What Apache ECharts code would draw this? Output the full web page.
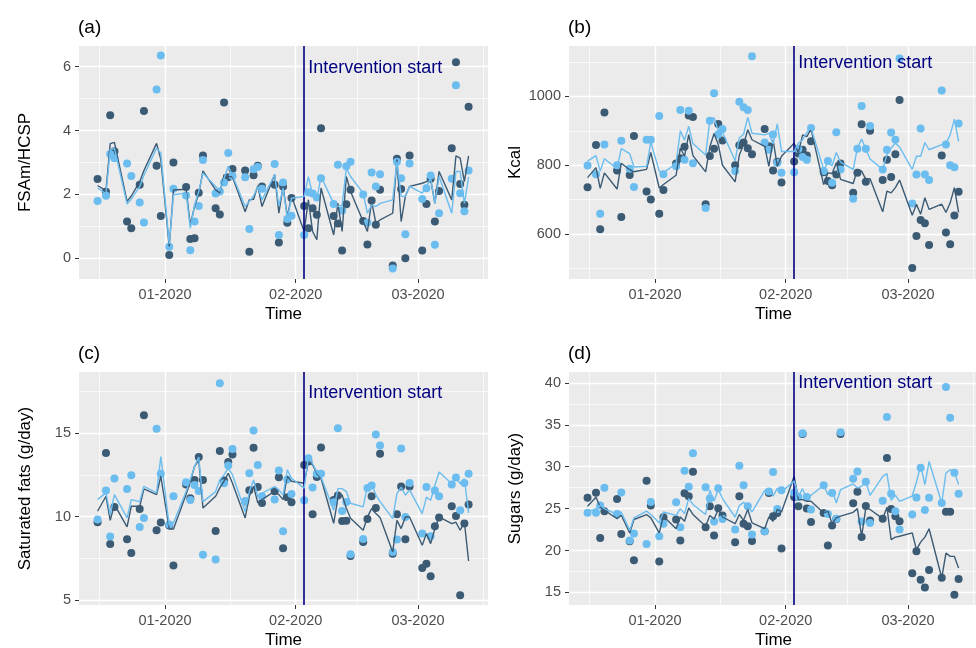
<!DOCTYPE html>
<html>
<head>
<meta charset="utf-8">
<script src="https://cdn.jsdelivr.net/npm/echarts@6/dist/echarts.min.js"></script>
<style>
  html, body { margin: 0; padding: 0; background: #fff; }
  #chart { width: 976px; height: 648px; }
</style>
</head>
<body>
<div id="chart"></div>
<script>
// weekdays with data
var dates = [
  '2019-12-16','2019-12-18','2019-12-19','2019-12-20','2019-12-23','2019-12-24','2019-12-26','2019-12-27','2019-12-30','2019-12-31',
  '2020-01-02','2020-01-03','2020-01-06','2020-01-07','2020-01-08','2020-01-09','2020-01-10',
  '2020-01-13','2020-01-14','2020-01-15','2020-01-16','2020-01-17','2020-01-20','2020-01-21','2020-01-22','2020-01-23','2020-01-24',
  '2020-01-27','2020-01-28','2020-01-29','2020-01-30','2020-01-31',
  '2020-02-03','2020-02-04','2020-02-05','2020-02-06','2020-02-07','2020-02-10','2020-02-11','2020-02-12','2020-02-13','2020-02-14',
  '2020-02-17','2020-02-18','2020-02-19','2020-02-20','2020-02-21','2020-02-24','2020-02-25','2020-02-26','2020-02-27','2020-02-28',
  '2020-03-02','2020-03-03','2020-03-04','2020-03-05','2020-03-06','2020-03-09','2020-03-10','2020-03-11','2020-03-12','2020-03-13'
];
var monthTicks = ['2020-01-01', '2020-02-01', '2020-03-01'];
var midMonthTicks = ['2019-12-16 12:00', '2020-01-16 12:00', '2020-02-15 12:00', '2020-03-16 12:00'];
var xStart = '2019-12-11 14:24';
var xEnd = '2020-03-17 14:24';
var interventionDate = '2020-02-03';

// (a) FSAm/HCSP
var aDark = [2.48, 2.08, 4.48, 3.35, 1.15, 0.94, 2.30, 4.61, 2.90, 1.32,
  0.10, 3.00, 2.23, 0.60, 0.63, 2.05, 3.22,
  1.57, 1.37, 4.88, 2.54, 2.80, 2.75, 0.20, 2.60, 2.90, 2.25,
  2.30, 0.49, 2.25, 1.11, 1.89,
  1.64, 0.94, 1.57, 1.36, 4.07, 1.32, 1.09, 0.24, 1.69, 2.15,
  1.17, 0.43, 1.81, 1.05, 2.15, -0.23, 3.12, 2.17, 0.00, 3.22,
  0.24, 1.70, 2.49, 1.15, 2.11, 3.45, 6.14, 2.33, 1.68, 4.75];
var aLight = [1.79, 1.96, 3.27, 3.13, 2.97, 2.58, 1.75, 1.12, 5.29, 6.35,
  0.36, 2.18, 1.97, 0.25, 1.15, 1.64, 3.08,
  2.03, 2.09, 2.37, 3.30, 2.58, 2.54, 0.92, 2.79, 2.86, 2.18,
  2.95, 0.73, 2.37, 1.23, 1.33,
  0.73, 2.07, 2.03, 1.90, 2.51, 1.70, 2.93, 1.50, 2.88, 3.02,
  2.00, 1.11, 2.69, 2.25, 2.63, -0.32, 3.02, 2.51, 0.75, 2.97,
  1.86, 2.19, 2.59, 0.42, 1.41, 2.49, 5.42, 2.04, 1.47, 2.75];
var aDarkLine = [2.28, 2.12, 3.59, 3.63, 1.78, 1.95, 2.40, 2.75, 3.60, 3.10,
  0.37, 2.14, 2.16, 1.05, 1.62, 2.02, 2.74,
  2.14, 2.05, 2.62, 2.56, 2.55, 1.46, 1.83, 1.85, 2.27, 1.62,
  2.62, 1.41, 2.25, 1.31, 1.94,
  0.84, 1.83, 0.84, 0.58, 2.20, 0.73, 1.72, 0.84, 2.56, 2.09,
  1.15, 0.84, 1.78, 1.10, 1.20, 1.41, 3.09, 1.15, 1.94, 2.25,
  2.35, 2.40, 2.46, 1.72, 2.72, 1.83, 3.21, 3.14, 2.40, 3.21];
var aLightLine = [2.20, 2.02, 3.40, 3.45, 1.70, 1.85, 2.25, 2.60, 3.45, 3.30,
  0.45, 1.99, 2.04, 0.94, 1.67, 2.09, 2.67,
  2.25, 2.10, 2.51, 2.88, 2.60, 1.62, 1.78, 1.95, 2.25, 1.83,
  2.62, 1.64, 2.20, 1.26, 1.88,
  1.94, 2.56, 1.99, 1.85, 2.56, 1.72, 1.62, 1.67, 2.82, 2.56,
  2.04, 1.41, 1.67, 1.62, 1.72, 1.83, 3.03, 1.94, 1.94, 2.25,
  2.04, 2.25, 2.51, 1.72, 2.56, 1.41, 2.72, 2.72, 1.72, 2.54];

// (b) Kcal
var bDark = [736, 859, 614, 953, 785, 650, 772, 885, 724, 701,
  659, 728, 805, 820, 854, 944, 940,
  687, 827, 848, 920, 872, 800, 858, 866, 849, 832,
  905, 855, 785, 810, 750,
  811, 834, 845, 828, 870, 780, 754, 742, 773, 805,
  720, 778, 919, 752, 900, 757, 816, 766, 832, 989,
  502, 595, 641, 632, 569, 828, 605, 571, 654, 723];
var bLight = [799, 774, 659, 860, 800, 871, 790, 737, 874, 874,
  943, 774, 797, 960, 816, 958, 806,
  676, 929, 1009, 889, 905, 783, 984, 968, 960, 1116,
  866, 845, 889, 807, 778,
  780, 847, 824, 816, 908, 783, 812, 749, 896, 788,
  703, 848, 972, 848, 914, 788, 845, 895, 874, 1110,
  689, 773, 907, 773, 757, 1017, 860, 800, 794, 921];
var bDarkLine = [764, 793, 733, 778, 731, 806, 787, 781, 788, 837,
  734, 744, 771, 850, 826, 889, 828,
  781, 853, 892, 860, 800, 752, 830, 860, 903, 874,
  855, 797, 874, 797, 826,
  864, 836, 888, 883, 905, 744, 778, 776, 807, 759,
  747, 788, 783, 759, 761, 665, 725, 720, 735, 757,
  655, 687, 658, 706, 672, 687, 663, 691, 735, 663];
var bLightLine = [812, 828, 783, 819, 790, 848, 834, 795, 797, 867,
  783, 778, 806, 900, 873, 913, 863,
  830, 931, 938, 900, 895, 813, 880, 890, 939, 893,
  888, 893, 862, 920, 840,
  840, 864, 874, 895, 908, 788, 807, 799, 837, 809,
  788, 850, 876, 847, 818, 788, 831, 850, 864, 853,
  788, 826, 826, 866, 845, 860, 864, 888, 934, 869];

// (c) Saturated fats
var cDark = [9.66, 13.81, 8.36, 10.58, 8.64, 7.82, 10.46, 16.07, 9.18, 9.64,
  9.46, 7.07, 11.92, 11.10, 12.20, 13.57, 12.20,
  9.14, 13.93, 12.17, 13.27, 13.73, 10.90, 11.58, 14.13, 11.78, 10.82,
  11.52, 12.36, 8.10, 11.16, 10.86,
  13.09, 13.30, 10.14, 12.37, 14.15, 11.00, 11.26, 9.74, 9.75, 7.64,
  8.48, 9.86, 11.22, 10.52, 13.77, 7.78, 10.14, 11.81, 8.64, 11.81,
  6.92, 7.18, 6.43, 9.42, 9.94, 10.62, 10.04, 5.29, 9.58, 10.72];
var cLight = [9.82, 11.56, 8.80, 12.28, 11.66, 12.48, 9.38, 9.92, 15.27, 12.57,
  9.52, 11.22, 12.06, 11.00, 11.90, 11.53, 7.72,
  7.43, 18.00, 12.00, 13.07, 14.05, 10.92, 12.60, 15.17, 13.10, 11.22,
  11.02, 12.77, 9.12, 12.22, 11.36,
  10.98, 13.50, 11.74, 12.57, 12.57, 10.86, 15.29, 10.34, 10.88, 7.74,
  8.66, 11.71, 11.87, 14.93, 14.27, 7.88, 8.62, 14.09, 9.98, 12.01,
  8.98, 11.77, 8.82, 11.57, 11.22, 11.93, 12.34, 10.38, 12.01, 12.57];
var cDarkLine = [10.32, 11.22, 9.78, 10.72, 9.38, 10.62, 10.62, 11.66, 11.32, 12.42,
  9.26, 9.26, 11.32, 12.12, 13.00, 13.40, 10.52,
  11.22, 11.72, 12.12, 12.60, 12.00, 9.92, 11.22, 11.82, 10.82, 11.02,
  11.52, 11.32, 11.02, 12.42, 12.12,
  12.00, 13.30, 13.10, 12.60, 12.30, 9.60, 11.10, 11.30, 10.50, 9.90,
  9.18, 9.98, 10.48, 10.18, 9.94, 7.88, 9.78, 9.28, 9.98, 9.98,
  8.28, 8.98, 8.38, 9.28, 9.98, 9.58, 9.66, 9.18, 9.66, 7.34];
var cLightLine = [11.02, 11.42, 10.12, 11.32, 9.92, 11.02, 10.90, 11.82, 11.42, 13.60,
  9.46, 9.62, 11.50, 12.22, 13.00, 13.57, 10.90,
  11.50, 12.20, 12.50, 12.90, 12.50, 10.30, 11.50, 12.20, 11.20, 11.40,
  11.80, 11.60, 11.30, 12.80, 12.30,
  11.70, 13.57, 13.17, 12.67, 12.37, 10.38, 11.68, 11.68, 11.50, 10.80,
  10.58, 11.83, 11.97, 11.30, 10.90, 9.88, 11.38, 11.77, 11.28, 11.60,
  10.18, 11.17, 10.98, 11.87, 12.67, 11.97, 12.37, 11.97, 12.27, 10.22];

// (d) Sugars
var dDark = [26.31, 26.90, 21.50, 24.68, 26.15, 21.98, 21.10, 18.85, 28.33, 25.36,
  18.69, 23.97, 23.69, 21.19, 26.83, 26.47, 29.40,
  22.78, 25.28, 21.80, 25.04, 24.17, 20.99, 26.47, 23.20, 22.90, 21.15,
  22.30, 26.87, 24.10, 24.48, 20.24,
  26.39, 25.28, 33.90, 25.00, 23.40, 24.48, 20.60, 22.98, 23.77, 33.90,
  25.63, 27.00, 21.60, 25.30, 23.57, 23.80, 31.03, 24.96, 24.09, 23.49,
  17.28, 19.92, 16.52, 15.58, 17.68, 16.75, 24.64, 24.64, 14.72, 16.60];
var dLight = [24.50, 24.50, 25.36, 27.48, 24.35, 26.92, 21.19, 22.03, 20.78, 25.80,
  21.70, 23.20, 25.75, 22.78, 29.52, 27.62, 31.60,
  27.54, 26.20, 23.45, 27.42, 23.77, 22.50, 30.12, 27.80, 25.28, 21.90,
  22.30, 27.04, 29.37, 24.96, 27.20,
  26.90, 26.39, 34.00, 26.40, 24.88, 27.78, 24.37, 26.87, 23.80, 34.10,
  28.55, 29.42, 23.47, 28.22, 23.29, 25.95, 35.92, 26.77, 24.68, 22.50,
  24.29, 26.33, 29.89, 24.84, 26.30, 25.67, 39.50, 35.85, 29.27, 26.77];
var dDarkLine = [25.28, 26.35, 25.20, 24.80, 23.80, 24.20, 22.10, 23.70, 24.29, 23.90,
  22.10, 24.10, 22.60, 24.00, 23.50, 25.08, 24.30,
  22.90, 24.17, 23.77, 24.88, 24.00, 23.20, 24.30, 23.60, 24.90, 23.30,
  22.60, 24.00, 23.50, 24.90, 24.60,
  28.85, 26.07, 26.07, 25.87, 25.87, 24.48, 24.68, 23.21, 23.90, 24.10,
  24.56, 25.00, 21.70, 25.10, 24.90, 23.80, 25.16, 21.30, 21.60, 21.70,
  22.10, 20.10, 21.00, 21.60, 22.60, 16.75, 19.70, 19.30, 19.30, 17.90];
var dLightLine = [24.60, 25.00, 25.40, 25.00, 24.30, 24.60, 22.40, 23.90, 24.70, 24.30,
  23.30, 24.60, 24.20, 25.00, 24.40, 26.20, 25.50,
  24.30, 27.20, 25.90, 27.30, 26.20, 24.00, 25.36, 25.75, 25.30, 24.60,
  27.14, 27.34, 26.50, 27.42, 27.00,
  28.30, 26.47, 27.38, 26.07, 26.60, 27.78, 26.67, 27.26, 25.67, 27.26,
  27.94, 27.46, 27.66, 28.17, 26.59, 28.85, 29.17, 26.00, 26.60, 25.87,
  26.50, 28.17, 30.16, 27.86, 30.63, 25.67, 29.25, 29.64, 29.40, 27.86];

var FONT = '"Liberation Sans", Arial, sans-serif';
var DARK = '#3b5a74';
var LIGHT = '#6bbdef';
var NAVY = '#000080';

// local-time parser so axis, data and labels agree
function toTime(s) {
  var p = s.split(/[- :]/);
  return new Date(+p[0], +p[1] - 1, +p[2], +(p[3] || 0), +(p[4] || 0)).getTime();
}
function monthLabel(v) {
  var d = new Date(v);
  var m = d.getMonth() + 1;
  return (m < 10 ? '0' : '') + m + '-' + d.getFullYear();
}

var panels = [
  {title: '(a)', yName: 'FSAm/HCSP', yMin: -0.65, yMax: 6.65, yTicks: [0, 2, 4, 6], yMinor: [1, 3, 5],
   dark: aDark, light: aLight, darkLine: aDarkLine, lightLine: aLightLine, textY: 5.96, left: 79, top: 46},
  {title: '(b)', yName: 'Kcal', yMin: 470, yMax: 1146, yTicks: [600, 800, 1000], yMinor: [500, 700, 900, 1100],
   dark: bDark, light: bLight, darkLine: bDarkLine, lightLine: bLightLine, textY: 1098, left: 569, top: 46},
  {title: '(c)', yName: 'Saturated fats (g/day)', yMin: 4.7, yMax: 18.67, yTicks: [5, 10, 15], yMinor: [7.5, 12.5, 17.5],
   dark: cDark, light: cLight, darkLine: cDarkLine, lightLine: cLightLine, textY: 17.4, left: 79, top: 372},
  {title: '(d)', yName: 'Sugars (g/day)', yMin: 13.5, yMax: 41.3, yTicks: [15, 20, 25, 30, 35, 40], yMinor: [17.5, 22.5, 27.5, 32.5, 37.5],
   dark: dDark, light: dLight, darkLine: dDarkLine, lightLine: dLightLine, textY: 39.96, left: 569, top: 372}
];

var times = dates.map(toTime);
var grids = [], xAxes = [], yAxes = [], series = [], titles = [];

panels.forEach(function (p, i) {
  grids.push({
    left: p.left, top: p.top, width: 409, height: 233,
    show: true, backgroundColor: '#ebebeb', borderWidth: 0,
    outerBoundsMode: 'none'
  });
  titles.push({
    text: p.title, left: p.left - 1, top: p.top - 28, padding: 0,
    textStyle: {fontFamily: FONT, fontSize: 19, fontWeight: 'normal', color: '#000'}
  });
  // x axes are numeric (ms) so custom month ticks work
  xAxes.push({
    type: 'value', gridIndex: i, position: 'bottom',
    min: toTime(xStart), max: toTime(xEnd),
    name: 'Time', nameLocation: 'middle', nameGap: 27,
    nameTextStyle: {fontFamily: FONT, fontSize: 17, color: '#000'},
    axisLine: {show: false, onZero: false},
    axisTick: {show: true, length: 4, lineStyle: {color: '#333', width: 1}, customValues: monthTicks.map(toTime)},
    axisLabel: {show: true, margin: 8, fontFamily: FONT, fontSize: 14.5, color: '#4d4d4d',
      customValues: monthTicks.map(toTime), formatter: monthLabel},
    splitLine: {show: true, lineStyle: {color: '#fff', width: 1.4}}
  });
  xAxes.push({
    type: 'value', gridIndex: i, position: 'top',
    min: toTime(xStart), max: toTime(xEnd),
    axisLine: {show: false, onZero: false},
    axisTick: {show: false, customValues: midMonthTicks.map(toTime)},
    axisLabel: {show: false},
    splitLine: {show: true, lineStyle: {color: '#fff', width: 0.7}}
  });
  yAxes.push({
    type: 'value', gridIndex: i, position: 'left',
    min: p.yMin, max: p.yMax,
    name: p.yName, nameLocation: 'middle', nameGap: 45,
    nameTextStyle: {fontFamily: FONT, fontSize: 17, color: '#000'},
    axisLine: {show: false, onZero: false},
    axisTick: {show: true, length: 4, lineStyle: {color: '#333', width: 1}, customValues: p.yTicks},
    axisLabel: {show: true, margin: 8, fontFamily: FONT, fontSize: 14.5, color: '#4d4d4d', customValues: p.yTicks,
      formatter: function (v) { return String(v); }},
    splitLine: {show: true, lineStyle: {color: '#fff', width: 1.4}}
  });
  yAxes.push({
    type: 'value', gridIndex: i, position: 'right',
    min: p.yMin, max: p.yMax,
    axisLine: {show: false, onZero: false},
    axisTick: {show: false, customValues: p.yMinor},
    axisLabel: {show: false},
    splitLine: {show: true, lineStyle: {color: '#fff', width: 0.7}}
  });

  function pairs(vals) {
    return vals.map(function (v, j) { return [times[j], v]; });
  }
  var xi = 2 * i, yi = 2 * i;
  series.push({
    type: 'scatter', xAxisIndex: xi, yAxisIndex: yi, data: pairs(p.dark),
    symbolSize: 8, itemStyle: {color: DARK, opacity: 1}, silent: true, z: 2
  });
  series.push({
    type: 'scatter', xAxisIndex: xi, yAxisIndex: yi, data: pairs(p.light),
    symbolSize: 8, itemStyle: {color: LIGHT, opacity: 1}, silent: true, z: 3
  });
  series.push({
    type: 'line', xAxisIndex: xi, yAxisIndex: yi, data: pairs(p.darkLine),
    showSymbol: false, lineStyle: {color: DARK, width: 1.4}, silent: true, z: 4
  });
  series.push({
    type: 'line', xAxisIndex: xi, yAxisIndex: yi, data: pairs(p.lightLine),
    showSymbol: false, lineStyle: {color: LIGHT, width: 1.4}, silent: true, z: 5
  });
  // intervention marker and its label
  series.push({
    type: 'scatter', xAxisIndex: xi, yAxisIndex: yi,
    data: [[toTime(interventionDate), p.textY]],
    symbolSize: 0, silent: true, z: 6,
    itemStyle: {opacity: 1},
    label: {show: true, position: 'right', distance: 4, formatter: 'Intervention start',
      fontFamily: FONT, fontSize: 18, color: NAVY, opacity: 1},
    markLine: {
      silent: true, symbol: 'none', animation: false,
      label: {show: false},
      lineStyle: {color: NAVY, width: 1.6, type: 'solid', opacity: 1},
      data: [{xAxis: toTime(interventionDate)}]
    }
  });
});

var chart = echarts.init(document.getElementById('chart'), null, {renderer: 'canvas'});
chart.setOption({
  animation: false,
  backgroundColor: '#fff',
  title: titles,
  grid: grids,
  xAxis: xAxes,
  yAxis: yAxes,
  series: series
});
</script>
</body>
</html>
